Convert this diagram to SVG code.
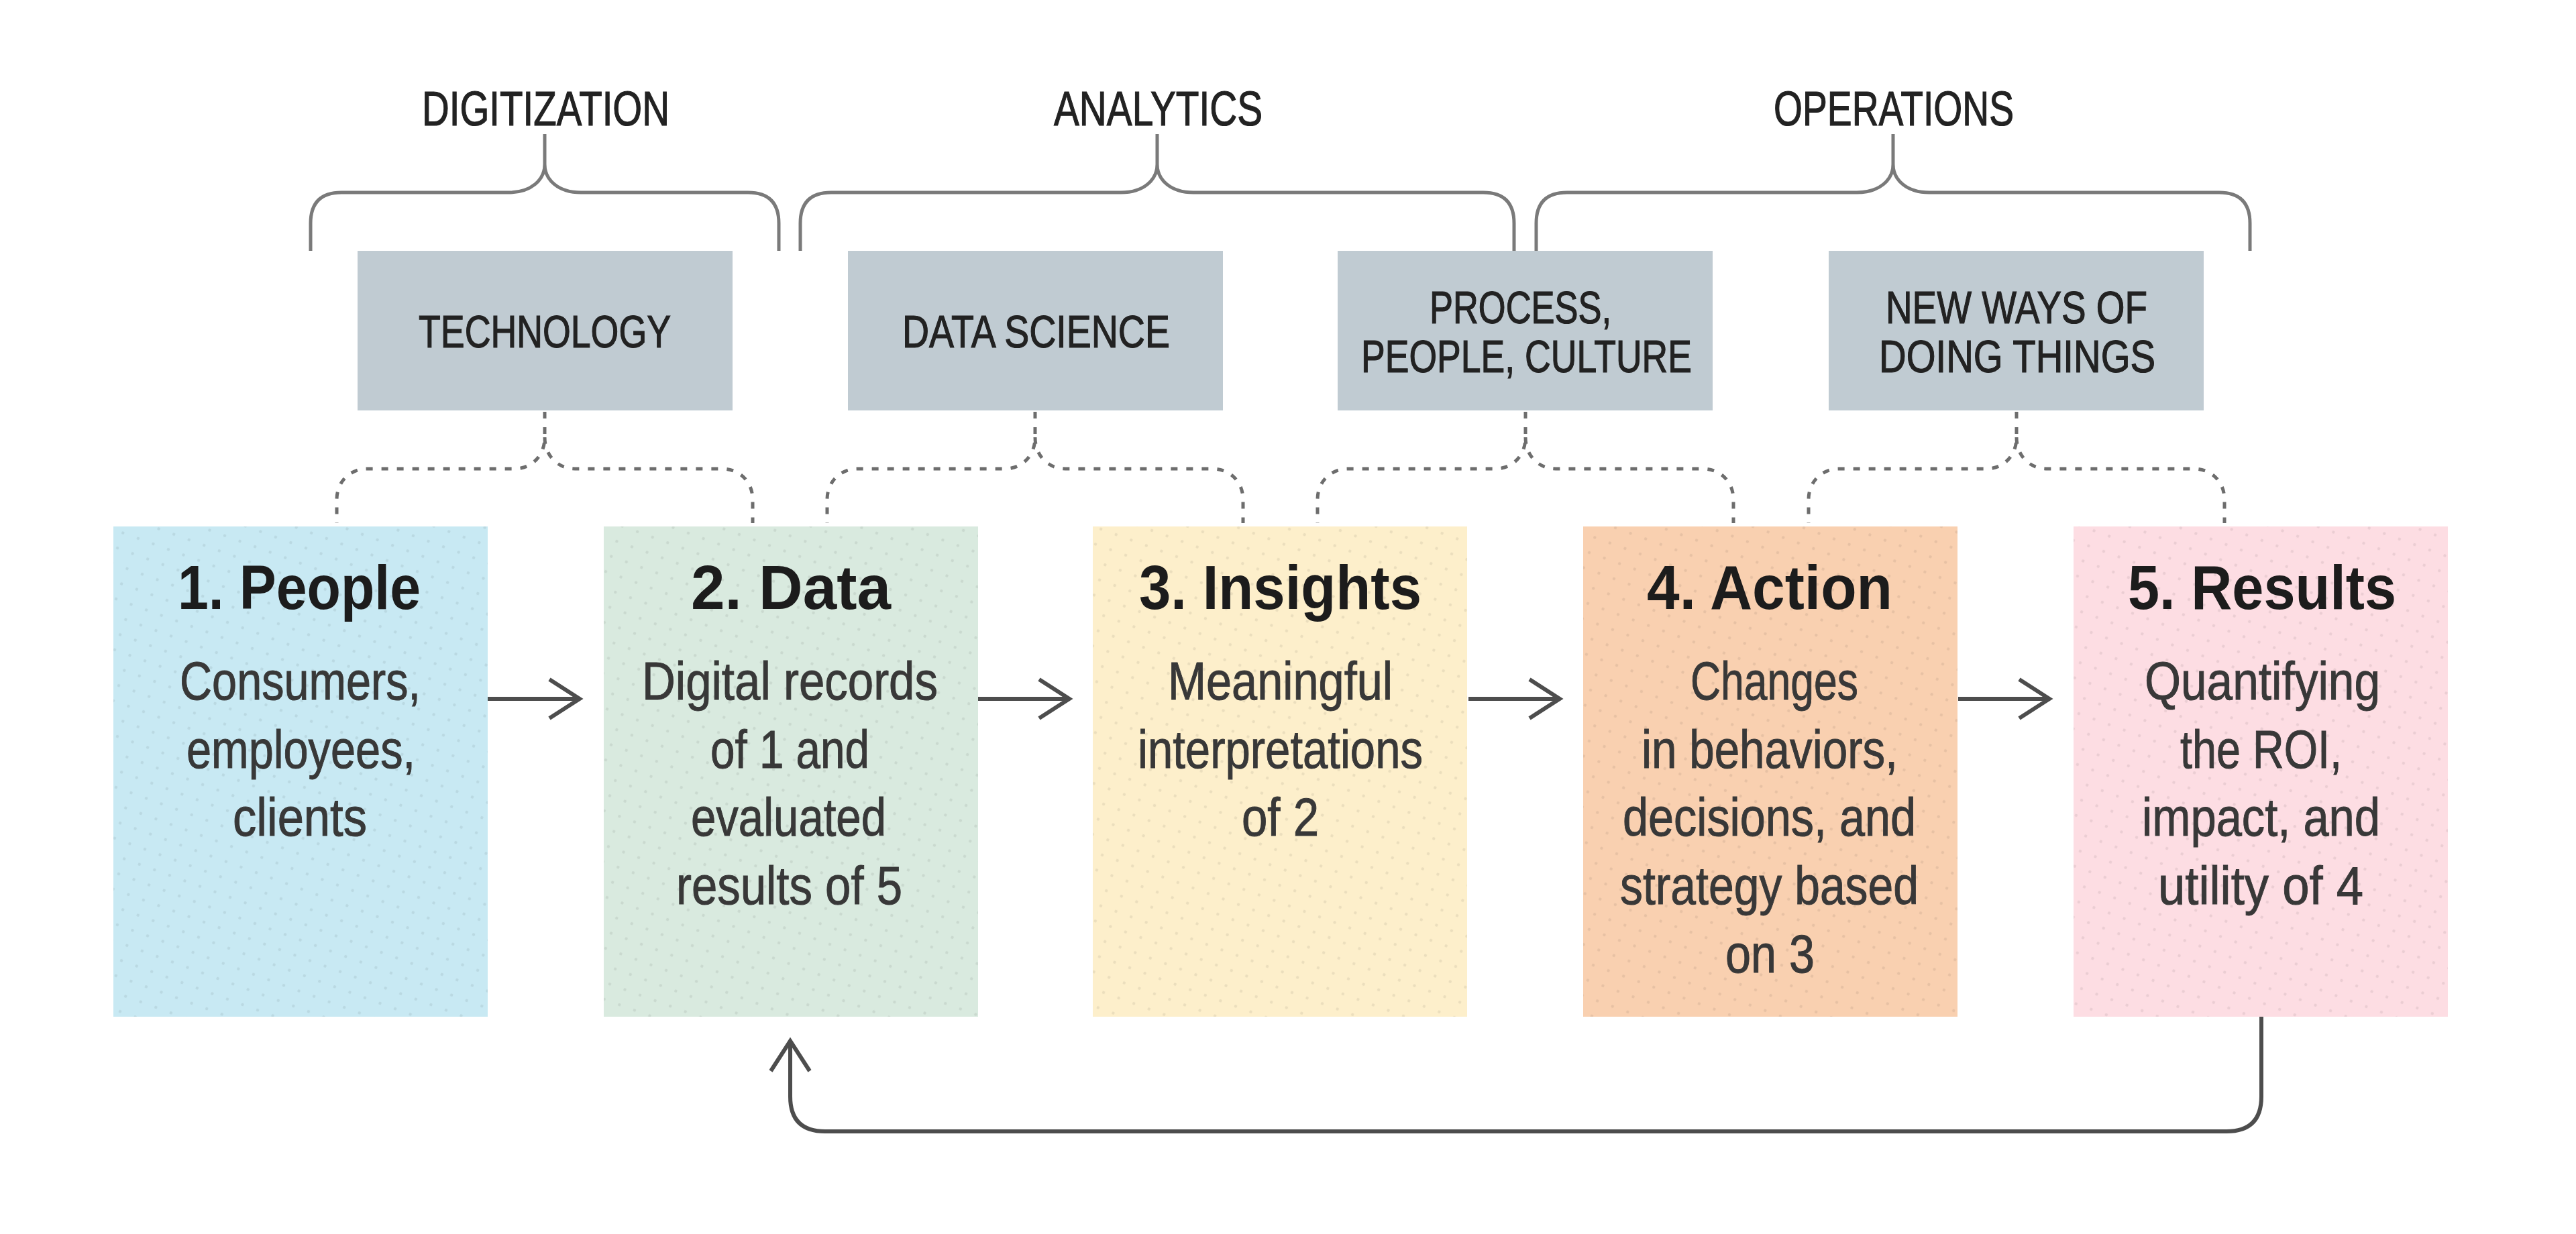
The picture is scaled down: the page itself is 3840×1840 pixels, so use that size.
<svg xmlns="http://www.w3.org/2000/svg" width="3840" height="1840" viewBox="0 0 3840 1840">
<style>
.lbl{font-family:"Liberation Sans",Arial,sans-serif;font-size:72px;fill:#222;stroke:#222;stroke-width:1.2}
.gtx{font-family:"Liberation Sans",Arial,sans-serif;font-size:68px;fill:#222;stroke:#222;stroke-width:1.2}
.ttl{font-family:"Liberation Sans",Arial,sans-serif;font-size:93px;font-weight:bold;fill:#1c1c1c}
.bd{font-family:"Liberation Sans",Arial,sans-serif;font-size:80px;fill:#383838;stroke:#383838;stroke-width:1}
.gray{fill:#c0cbd2}
.brace{fill:none;stroke:#7a7a7a;stroke-width:5}
.dash{fill:none;stroke:#6d6d6d;stroke-width:5;stroke-dasharray:10 13}
.arrow{fill:none;stroke:#4d4d4d;stroke-width:6;marker-end:url(#chev)}
</style>
<defs>
<pattern id="dots" width="24" height="24" patternUnits="userSpaceOnUse" patternTransform="rotate(20)">
<circle cx="12" cy="12" r="2.2" fill="#000" fill-opacity="0.07"/>
</pattern>
<marker id="chev" viewBox="0 0 60 70" refX="50" refY="35" markerWidth="60" markerHeight="70" markerUnits="userSpaceOnUse" orient="auto">
<path d="M5,6 L50,35 L5,64" fill="none" stroke="#4d4d4d" stroke-width="6"/>
</marker>
</defs>
<rect width="3840" height="1840" fill="#fff"/>

<g id="braces">
<path class="brace" d="M463,374 V333 Q463,287 509,287 H758 C792,287 812,268 812,245 C812,268 832,287 866,287 H1115 Q1161,287 1161,333 V374 M812,245 V200"/>
<path class="brace" d="M1193,374 V333 Q1193,287 1239,287 H1671 C1705,287 1725,268 1725,245 C1725,268 1745,287 1779,287 H2211 Q2257,287 2257,333 V374 M1725,245 V200"/>
<path class="brace" d="M2290,374 V333 Q2290,287 2336,287 H2768 C2802,287 2822,268 2822,245 C2822,268 2842,287 2876,287 H3308 Q3354,287 3354,333 V374 M2822,245 V200"/>
</g>
<g id="group-labels">
<text class="lbl" x="629" y="187" textLength="369" lengthAdjust="spacingAndGlyphs">DIGITIZATION</text>
<text class="lbl" x="1571" y="187" textLength="311" lengthAdjust="spacingAndGlyphs">ANALYTICS</text>
<text class="lbl" x="2644" y="187" textLength="358" lengthAdjust="spacingAndGlyphs">OPERATIONS</text>
</g>

<g id="technology">
<rect class="gray" x="533" y="374" width="559" height="238"/>
<text class="gtx" x="624" y="518" textLength="376" lengthAdjust="spacingAndGlyphs">TECHNOLOGY</text>
</g>
<g id="data-science">
<rect class="gray" x="1264" y="374" width="559" height="238"/>
<text class="gtx" x="1345" y="518" textLength="399" lengthAdjust="spacingAndGlyphs">DATA SCIENCE</text>
</g>
<g id="process">
<rect class="gray" x="1994" y="374" width="559" height="238"/>
<text class="gtx" x="2131" y="482" textLength="271" lengthAdjust="spacingAndGlyphs">PROCESS,</text>
<text class="gtx" x="2029" y="555" textLength="493" lengthAdjust="spacingAndGlyphs">PEOPLE, CULTURE</text>
</g>
<g id="new-ways">
<rect class="gray" x="2726" y="374" width="559" height="238"/>
<text class="gtx" x="2811" y="482" textLength="390" lengthAdjust="spacingAndGlyphs">NEW WAYS OF</text>
<text class="gtx" x="2801" y="555" textLength="412" lengthAdjust="spacingAndGlyphs">DOING THINGS</text>
</g>

<g id="connectors">
<path class="dash" d="M812,614 V652 C812,680 792,699 767,699 H547 C522,699 502,718 502,745 V780 M812,652 C812,680 832,699 857,699 H1077 C1102,699 1122,718 1122,745 V780"/>
<path class="dash" d="M1543,614 V652 C1543,680 1523,699 1498,699 H1278 C1253,699 1233,718 1233,745 V780 M1543,652 C1543,680 1563,699 1588,699 H1808 C1833,699 1853,718 1853,745 V780"/>
<path class="dash" d="M2274,614 V652 C2274,680 2254,699 2229,699 H2009 C1984,699 1964,718 1964,745 V780 M2274,652 C2274,680 2294,699 2319,699 H2539 C2564,699 2584,718 2584,745 V780"/>
<path class="dash" d="M3006,614 V652 C3006,680 2986,699 2961,699 H2741 C2716,699 2696,718 2696,745 V780 M3006,652 C3006,680 3026,699 3051,699 H3271 C3296,699 3316,718 3316,745 V780"/>
<path class="arrow" d="M726,1042 H864"/>
<path class="arrow" d="M1457,1042 H1594"/>
<path class="arrow" d="M2189,1042 H2325"/>
<path class="arrow" d="M2919,1042 H3055"/>
<path class="arrow" d="M3371,1516 V1635 Q3371,1687 3319,1687 H1230 Q1178,1687 1178,1635 V1552"/>
</g>

<g id="people">
<rect x="169" y="785" width="558" height="731" fill="#c8e9f3"/>
<rect x="169" y="785" width="558" height="731" fill="url(#dots)"/>
<text class="ttl" x="265" y="908" textLength="362" lengthAdjust="spacingAndGlyphs">1. People</text>
<text class="bd" x="268" y="1043" textLength="359" lengthAdjust="spacingAndGlyphs">Consumers,</text>
<text class="bd" x="278" y="1145" textLength="341" lengthAdjust="spacingAndGlyphs">employees,</text>
<text class="bd" x="347" y="1246" textLength="200" lengthAdjust="spacingAndGlyphs">clients</text>
</g>
<g id="data">
<rect x="900" y="785" width="558" height="731" fill="#d9eadf"/>
<rect x="900" y="785" width="558" height="731" fill="url(#dots)"/>
<text class="ttl" x="1030" y="908" textLength="298" lengthAdjust="spacingAndGlyphs">2. Data</text>
<text class="bd" x="957" y="1043" textLength="441" lengthAdjust="spacingAndGlyphs">Digital records</text>
<text class="bd" x="1059" y="1145" textLength="237" lengthAdjust="spacingAndGlyphs">of 1 and</text>
<text class="bd" x="1030" y="1246" textLength="291" lengthAdjust="spacingAndGlyphs">evaluated</text>
<text class="bd" x="1008" y="1348" textLength="337" lengthAdjust="spacingAndGlyphs">results of 5</text>
</g>
<g id="insights">
<rect x="1629" y="785" width="558" height="731" fill="#fdefcb"/>
<rect x="1629" y="785" width="558" height="731" fill="url(#dots)"/>
<text class="ttl" x="1698" y="908" textLength="421" lengthAdjust="spacingAndGlyphs">3. Insights</text>
<text class="bd" x="1741" y="1043" textLength="335" lengthAdjust="spacingAndGlyphs">Meaningful</text>
<text class="bd" x="1696" y="1145" textLength="425" lengthAdjust="spacingAndGlyphs">interpretations</text>
<text class="bd" x="1851" y="1246" textLength="115" lengthAdjust="spacingAndGlyphs">of 2</text>
</g>
<g id="action">
<rect x="2360" y="785" width="558" height="731" fill="#f9d0b0"/>
<rect x="2360" y="785" width="558" height="731" fill="url(#dots)"/>
<text class="ttl" x="2455" y="908" textLength="366" lengthAdjust="spacingAndGlyphs">4. Action</text>
<text class="bd" x="2520" y="1043" textLength="250" lengthAdjust="spacingAndGlyphs">Changes</text>
<text class="bd" x="2447" y="1145" textLength="382" lengthAdjust="spacingAndGlyphs">in behaviors,</text>
<text class="bd" x="2419" y="1246" textLength="437" lengthAdjust="spacingAndGlyphs">decisions, and</text>
<text class="bd" x="2415" y="1348" textLength="445" lengthAdjust="spacingAndGlyphs">strategy based</text>
<text class="bd" x="2572" y="1450" textLength="133" lengthAdjust="spacingAndGlyphs">on 3</text>
</g>
<g id="results">
<rect x="3091" y="785" width="558" height="731" fill="#fddde3"/>
<rect x="3091" y="785" width="558" height="731" fill="url(#dots)"/>
<text class="ttl" x="3172" y="908" textLength="400" lengthAdjust="spacingAndGlyphs">5. Results</text>
<text class="bd" x="3197" y="1043" textLength="351" lengthAdjust="spacingAndGlyphs">Quantifying</text>
<text class="bd" x="3250" y="1145" textLength="241" lengthAdjust="spacingAndGlyphs">the ROI,</text>
<text class="bd" x="3193" y="1246" textLength="355" lengthAdjust="spacingAndGlyphs">impact, and</text>
<text class="bd" x="3217" y="1348" textLength="306" lengthAdjust="spacingAndGlyphs">utility of 4</text>
</g>
</svg>
